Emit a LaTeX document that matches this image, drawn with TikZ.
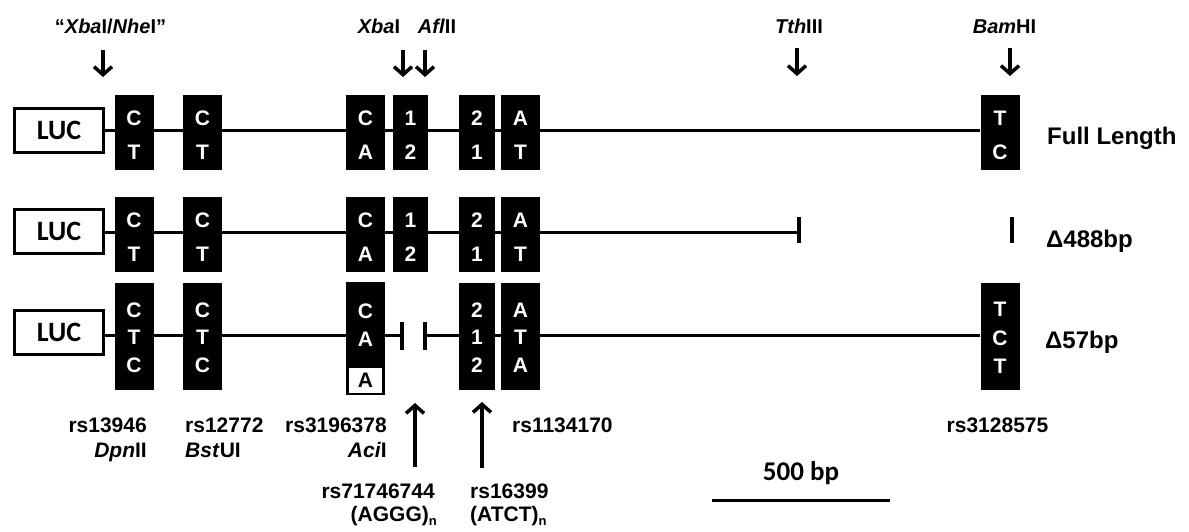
\documentclass[tikz,border=0pt]{standalone}
\usepackage{fontspec}
\setmainfont{Liberation Sans}
\newfontfamily\calfont{Carlito}
\usetikzlibrary{arrows.meta,backgrounds}
\newcommand{\subn}{\raisebox{-4pt}{\fontsize{13}{13}\selectfont n}}
\begin{document}
\begin{tikzpicture}[x=1pt,y=-1pt,
  bb/.style={line width=3pt},
  lucbox/.style={draw,line width=3pt,minimum width=89pt,minimum height=44pt,inner sep=0pt,font=\calfont\bfseries\fontsize{28}{28}\selectfont},
  snp/.style={fill=black,minimum width=39pt,inner sep=0pt},
  snpn/.style={snp,minimum width=35.5pt},
  let/.style={text=white,inner sep=0pt,font=\bfseries\fontsize{21}{21}\selectfont},
  lab/.style={inner sep=0pt,font=\bfseries\fontsize{21}{21}\selectfont},
  tlab/.style={inner sep=0pt,anchor=base,font=\bfseries\fontsize{20}{20}\selectfont},
  rlab/.style={inner sep=0pt,anchor=base west,font=\bfseries\fontsize{24}{24}\selectfont},
  darr/.style={line width=3.5pt,-{Straight Barb[length=8pt,width=18pt,line width=3.5pt]}},
  tickm/.style={line width=3.5pt},
]
\useasboundingbox (0,0) rectangle (1189,531);

% ---------- top restriction sites ----------
\node[tlab] (nxn) at (110.5,33) {\textquotedblleft\textit{Xba}I/\textit{Nhe}I\textquotedblright};
\node[tlab] (nxb) at (379,33) {\textit{Xba}I};
\node[tlab] (naf) at (437,33) {\textit{Afl}II};
\node[tlab] (nth) at (799,33) {\textit{Tth}III};
\node[tlab] (nbh) at (1004.5,33) {\textit{Bam}HI};
\coordinate (xn1) at (103,50);  \coordinate (xn2) at (103,77);
\coordinate (xb1) at (403,50);  \coordinate (xb2) at (403,77);
\coordinate (af1) at (425,50);  \coordinate (af2) at (425,77);
\coordinate (th1) at (797,48);  \coordinate (th2) at (797,76);
\coordinate (bh1) at (1010,48); \coordinate (bh2) at (1010,76);
\draw[darr] (xn1) -- (xn2);
\draw[darr] (xb1) -- (xb2);
\draw[darr] (af1) -- (af2);
\draw[darr] (th1) -- (th2);
\draw[darr] (bh1) -- (bh2);

% ---------- row 1 : Full Length ----------
\node[lucbox] (luc1) at (59,130) {LUC};
\node[snp,minimum height=75pt] (a11) at (134,132.5) {};
\node[snp,minimum height=75pt] (a12) at (202.5,132.5) {};
\node[snp,minimum height=75pt] (a13) at (365.5,132.5) {};
\node[snpn,minimum height=75pt] (a14) at (410.5,132.5) {};
\node[snpn,minimum height=75pt] (a15) at (477,132.5) {};
\node[snp,minimum height=75pt] (a16) at (520.5,132.5) {};
\node[snp,minimum height=75pt] (a17) at (1000,132.5) {};
\begin{scope}[on background layer]
\draw[bb] (luc1.east) -- (luc1.east -| a17.west);
\end{scope}
\node[let] (l11a) at (134,118.5) {C};   \node[let] (l11b) at (134,152) {T};
\node[let] (l12a) at (202.5,118.5) {C}; \node[let] (l12b) at (202.5,152) {T};
\node[let] (l13a) at (365.5,118.5) {C}; \node[let] (l13b) at (365.5,152) {A};
\node[let] (l14a) at (410.5,118.5) {1}; \node[let] (l14b) at (410.5,152) {2};
\node[let] (l15a) at (477,118.5) {2};   \node[let] (l15b) at (477,152) {1};
\node[let] (l16a) at (520.5,118.5) {A}; \node[let] (l16b) at (520.5,152) {T};
\node[let] (l17a) at (1000,118.5) {T};  \node[let] (l17b) at (1000,152) {C};
\node[rlab] (fl) at (1047,144) {Full Length};

% ---------- row 2 : Delta 488 bp ----------
\node[lucbox] (luc2) at (59,231) {LUC};
\node[snp,minimum height=75pt] (a21) at (134,234.5) {};
\node[snp,minimum height=75pt] (a22) at (202.5,234.5) {};
\node[snp,minimum height=75pt] (a23) at (365.5,234.5) {};
\node[snpn,minimum height=75pt] (a24) at (410.5,234.5) {};
\node[snpn,minimum height=75pt] (a25) at (477,234.5) {};
\node[snp,minimum height=75pt] (a26) at (520.5,234.5) {};
\coordinate (t2a) at (799,217); \coordinate (t2b) at (799,243);
\coordinate (t2m) at (799,232.5);
\coordinate (t2c) at (1012,217); \coordinate (t2d) at (1012,243);
\begin{scope}[on background layer]
\draw[bb] (luc2.east |- t2m) -- (t2m);
\end{scope}
\draw[tickm] (t2a) -- (t2b);
\draw[tickm] (t2c) -- (t2d);
\node[let] (l21a) at (134,220.5) {C};   \node[let] (l21b) at (134,254) {T};
\node[let] (l22a) at (202.5,220.5) {C}; \node[let] (l22b) at (202.5,254) {T};
\node[let] (l23a) at (365.5,220.5) {C}; \node[let] (l23b) at (365.5,254) {A};
\node[let] (l24a) at (410.5,220.5) {1}; \node[let] (l24b) at (410.5,254) {2};
\node[let] (l25a) at (477,220.5) {2};   \node[let] (l25b) at (477,254) {1};
\node[let] (l26a) at (520.5,220.5) {A}; \node[let] (l26b) at (520.5,254) {T};
\node[rlab] (d488) at (1046,247) {Δ488bp};

% ---------- row 3 : Delta 57 bp ----------
\node[lucbox] (luc3) at (59,332) {LUC};
\node[snp,minimum height=107pt] (a31) at (134,336.5) {};
\node[snp,minimum height=107pt] (a32) at (202.5,336.5) {};
\node[snp,minimum height=83pt] (a33) at (365.5,323.5) {};
\node[draw,fill=white,line width=2.5pt,minimum width=36pt,minimum height=27.5pt,inner sep=0pt,font=\bfseries\fontsize{21}{21}\selectfont] (a33w) at (365.5,380) {A};
\node[snpn,minimum height=107pt] (a35) at (477,336.5) {};
\node[snp,minimum height=107pt] (a36) at (520.5,336.5) {};
\node[snp,minimum height=107pt] (a37) at (1000,336.5) {};
\coordinate (t3a) at (402,322); \coordinate (t3b) at (402,350);
\coordinate (t3c) at (425,322); \coordinate (t3d) at (425,350);
\coordinate (t3l) at (402,335); \coordinate (t3r) at (425,335);
\begin{scope}[on background layer]
\draw[bb] (luc3.east |- t3l) -- (t3l);
\draw[bb] (t3r) -- (t3r -| a37.west);
\end{scope}
\draw[tickm] (t3a) -- (t3b);
\draw[tickm] (t3c) -- (t3d);
\node[let] (l31a) at (134,310) {C};   \node[let] (l31b) at (134,337.5) {T};   \node[let] (l31c) at (134,365) {C};
\node[let] (l32a) at (202.5,310) {C}; \node[let] (l32b) at (202.5,337.5) {T}; \node[let] (l32c) at (202.5,365) {C};
\node[let] (l33a) at (365.5,311) {C}; \node[let] (l33b) at (365.5,339) {A};
\node[let] (l35a) at (477,310) {2};   \node[let] (l35b) at (477,337.5) {1};   \node[let] (l35c) at (477,365) {2};
\node[let] (l36a) at (520.5,310) {A}; \node[let] (l36b) at (520.5,337.5) {T}; \node[let] (l36c) at (520.5,365) {A};
\node[let] (l37a) at (1000,309) {T};  \node[let] (l37b) at (1000,338.5) {C};  \node[let] (l37c) at (1000,366) {T};
\node[rlab] (d57) at (1045,348) {Δ57bp};

% ---------- bottom labels ----------
\node[lab,anchor=base east] (r1) at (147,432) {rs13946};
\node[lab,anchor=base east] (r1e) at (147,457) {\textit{Dpn}II};
\node[lab,anchor=base west] (r2) at (185,432) {rs12772};
\node[lab,anchor=base west] (r2e) at (185,457) {\textit{Bst}UI};
\node[lab,anchor=base east] (r3) at (387,432) {rs3196378};
\node[lab,anchor=base east] (r3e) at (387,457) {\textit{Aci}I};
\node[lab,anchor=base east] (r4) at (435,498) {rs71746744};
\node[lab,anchor=base east] (r4e) at (437,521) {(AGGG)\subn};
\node[lab,anchor=base west] (r5) at (470,498) {rs16399};
\node[lab,anchor=base west] (r5e) at (470,521) {(ATCT)\subn};
\node[lab,anchor=base west] (r6) at (512,432) {rs1134170};
\node[lab,anchor=base] (r7) at (997.5,432) {rs3128575};
\coordinate (u1a) at (415,467); \coordinate (u1b) at (415,403);
\coordinate (u2a) at (482,468); \coordinate (u2b) at (482,402);
\draw[darr] (u1a) -- (u1b);
\draw[darr] (u2a) -- (u2b);

% ---------- scale bar ----------
\node[inner sep=0pt,anchor=base,font=\calfont\bfseries\fontsize{27}{27}\selectfont] (sb) at (801,480) {500 bp};
\coordinate (sb1) at (712,500); \coordinate (sb2) at (890,500);
\draw[bb] (sb1) -- (sb2);
\end{tikzpicture}
\end{document}
